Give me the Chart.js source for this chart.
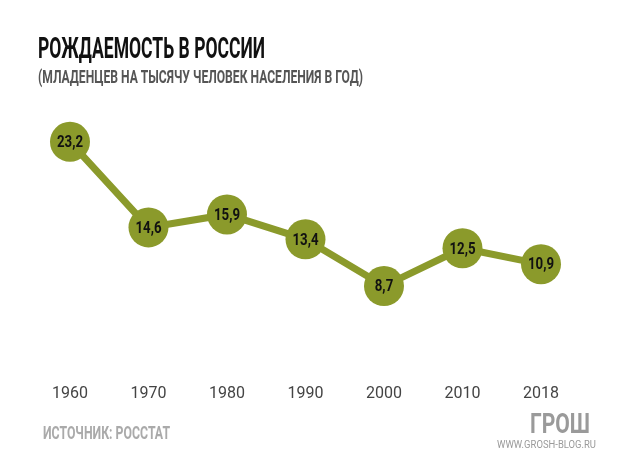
<!DOCTYPE html>
<html lang="ru">
<head>
<meta charset="utf-8">
<script src="https://cdn.jsdelivr.net/npm/chart.js@4"></script>
<style>
  html, body { margin: 0; padding: 0; background: #ffffff; }
  #wrap { width: 620px; height: 475px; position: relative; }
</style>
</head>
<body>
<div id="wrap"><canvas id="birthChart" width="620" height="475"></canvas></div>
<script>
// --- données ---
const annees = ['1960', '1970', '1980', '1990', '2000', '2010', '2018'];
const natalite = [23.2, 14.6, 15.9, 13.4, 8.7, 12.5, 10.9];

const titre = 'РОЖДАЕМОСТЬ В РОССИИ';
const sousTitre = '(МЛАДЕНЦЕВ НА ТЫСЯЧУ ЧЕЛОВЕК НАСЕЛЕНИЯ В ГОД)';
const source = 'ИСТОЧНИК: РОССТАТ';
const logo = 'ГРОШ';
const site = 'WWW.GROSH-BLOG.RU';

const police = "Roboto, 'DejaVu Sans', sans-serif";
const olive = '#8b9a2b';

// texte étroit : on compresse horizontalement pour tenir dans la largeur voulue
function texteEtroit(ctx, txt, x, y, largeur, align) {
    const w = ctx.measureText(txt).width;
    const sx = largeur / w;
    ctx.save();
    ctx.translate(align === 'right' ? x - largeur : x, y);
    ctx.scale(sx, 1);
    ctx.textAlign = 'left';
    ctx.fillText(txt, 0, 0);
    ctx.restore();
}

const textesPlugin = {
    id: 'textes',
    afterDatasetsDraw(chart) {
        const ctx = chart.ctx;
        ctx.save();
        ctx.textBaseline = 'middle';
        ctx.font = 'bold 17px ' + police;
        ctx.fillStyle = '#111111';
        const meta = chart.getDatasetMeta(0);
        meta.data.forEach((pt, i) => {
            const txt = String(natalite[i]).replace('.', ',');
            const w = ctx.measureText(txt).width * 0.78;
            texteEtroit(ctx, txt, pt.x - w / 2, pt.y + 1, w);
        });
        ctx.restore();
    },
    afterDraw(chart) {
        const ctx = chart.ctx;
        ctx.save();
        ctx.textBaseline = 'alphabetic';

        ctx.fillStyle = '#111111';
        ctx.font = 'bold 29px ' + police;
        texteEtroit(ctx, titre, 38, 58, 227);

        ctx.fillStyle = '#555555';
        ctx.font = 'bold 18px ' + police;
        texteEtroit(ctx, sousTitre, 38, 83, 325);

        ctx.fillStyle = '#aaaaaa';
        ctx.font = 'bold 18px ' + police;
        texteEtroit(ctx, source, 43, 439, 127);

        ctx.fillStyle = '#9a9a9a';
        ctx.font = 'bold 27px ' + police;
        texteEtroit(ctx, logo, 590, 433, 60, 'right');

        ctx.font = '10px ' + police;
        texteEtroit(ctx, site, 596, 448, 99, 'right');
        ctx.restore();
    }
};

const ctxNat = document.getElementById('birthChart').getContext('2d');
const natChart = new Chart(ctxNat, {
    type: 'line',
    data: {
        labels: annees,
        datasets: [{
            data: natalite,
            borderColor: olive,
            borderWidth: 7,
            backgroundColor: olive,
            pointBackgroundColor: olive,
            pointBorderColor: olive,
            pointRadius: 20,
            pointHoverRadius: 20,
            pointBorderWidth: 0,
            tension: 0,
            clip: false
        }]
    },
    options: {
        responsive: false,
        animation: false,
        events: [],
        layout: {
            autoPadding: false,
            padding: { left: 60, right: 79, top: 114, bottom: 19 }
        },
        scales: {
            x: {
                offset: false,
                grid: { display: false, drawTicks: false },
                border: { display: false },
                ticks: {
                    color: '#444444',
                    padding: 52,
                    font: { family: police, size: 16 }
                }
            },
            y: {
                display: false,
                min: 4,
                max: 26
            }
        },
        plugins: {
            legend: { display: false },
            tooltip: { enabled: false }
        }
    },
    plugins: [textesPlugin]
});
</script>
</body>
</html>
